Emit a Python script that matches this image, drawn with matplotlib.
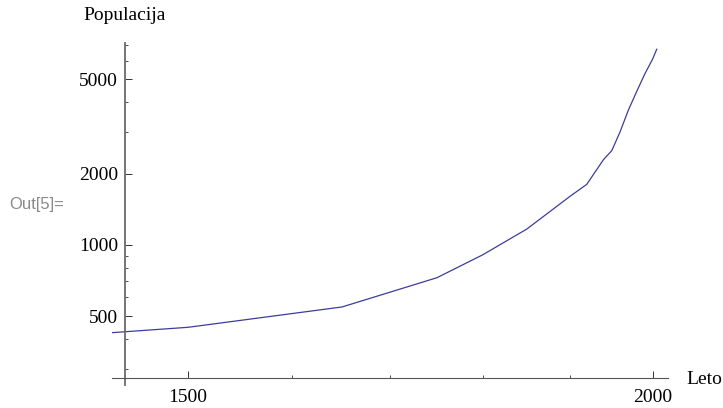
import matplotlib
matplotlib.use("Agg")
import matplotlib.pyplot as plt
from matplotlib.ticker import NullFormatter

# Svetovno prebivalstvo (v milijonih) po letih
leta = [1400, 1500, 1650, 1750, 1800, 1850, 1900, 1920, 1940, 1950,
        1960, 1970, 1980, 1990, 2000, 2005]
populacija = [415, 448, 546, 726, 906, 1165, 1600, 1800, 2290, 2500,
              3000, 3700, 4420, 5250, 6100, 6700]

x_glavne = [1500, 2000]
x_pomozne = [1600, 1700, 1800, 1900]
y_glavne = [500, 1000, 2000, 5000]
y_pomozne = [300, 400, 600, 700, 800, 900, 3000, 4000, 6000, 7000]

serif = "Liberation Serif"
barva_osi = "#6a6a6a"

fig = plt.figure(figsize=(7.23, 4.08), dpi=100)
ax = fig.add_axes([0.1549, 0.0564, 0.769, 0.8382])

ax.plot(leta, populacija, color="#3d3d99", lw=0.9)

ax.set_xscale("log")
ax.set_yscale("log")
ax.set_xlim(1431, 2019)
ax.set_ylim(255.6, 7119)

# osi se sekata kot v Mathematici
for s in ["top", "right"]:
    ax.spines[s].set_visible(False)
ax.spines["left"].set_position(("data", 1442.7))
ax.spines["bottom"].set_position(("data", 273.5))
ax.spines["left"].set_color(barva_osi)
ax.spines["bottom"].set_color("#555555")
ax.spines["left"].set_linewidth(1.3)
ax.spines["bottom"].set_linewidth(0.8)

ax.set_xticks(x_glavne)
ax.set_xticklabels([str(v) for v in x_glavne])
ax.set_xticks(x_pomozne, minor=True)
ax.set_yticks(y_glavne)
ax.set_yticklabels([str(v) for v in y_glavne])
ax.set_yticks(y_pomozne, minor=True)
ax.xaxis.set_minor_formatter(NullFormatter())
ax.yaxis.set_minor_formatter(NullFormatter())

ax.tick_params(which="major", direction="in", length=5, width=0.7, color="#333333")
ax.tick_params(which="minor", direction="in", length=2.5, width=0.6, color="#333333")
ax.tick_params(axis="x", which="major", pad=8)
ax.tick_params(axis="y", which="major", pad=5)
for lab in ax.get_xticklabels() + ax.get_yticklabels():
    lab.set_fontfamily(serif)
    lab.set_fontsize(14)

fig.text(125 / 723, 1 - 15 / 408, "Populacija", family=serif, fontsize=14,
         ha="center", va="center")
fig.text(686 / 723, 1 - 379 / 408, "Leto", family=serif, fontsize=14,
         ha="left", va="center")
fig.text(9 / 723, 1 - 205 / 408, "Out[5]=", family="Liberation Sans", fontsize=12,
         color="#8a8a8a", ha="left", va="center")

fig.savefig("out.png", dpi=100)
